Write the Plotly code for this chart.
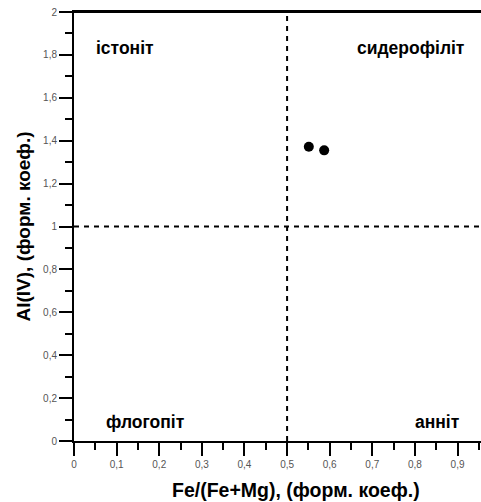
import plotly.graph_objects as go

# Data
fe_ratio = [0.551, 0.587]
al_iv = [1.372, 1.355]

field_names = ["істоніт", "сидерофіліт", "флогопіт", "анніт"]
field_x = [0.12, 0.79, 0.167, 0.852]
field_y = [1.83, 1.83, 0.09, 0.09]

fe_split = 0.5
al_split = 1.0

x_range = [0, 0.955]
y_range = [0, 2]

x_title = "Fe/(Fe+Mg), (форм. коеф.)"
y_title = "Al(IV), (форм. коеф.)"

FONT = "Liberation Sans, Arial"

fig = go.Figure()
fig.add_trace(go.Scatter(
    x=fe_ratio, y=al_iv, mode="markers",
    marker=dict(color="black", size=10),
    showlegend=False, cliponaxis=False, hoverinfo="skip",
))

for name, xx, yy in zip(field_names, field_x, field_y):
    fig.add_annotation(x=xx, y=yy, text="<b>" + name + "</b>", showarrow=False,
                       font=dict(family=FONT, size=17.5, color="black"))

fig.add_shape(type="line", x0=fe_split, x1=fe_split, y0=y_range[0], y1=y_range[1],
              line=dict(color="black", width=2, dash="5px,5px"))
fig.add_shape(type="line", x0=x_range[0], x1=x_range[1], y0=al_split, y1=al_split,
              line=dict(color="black", width=2, dash="5px,5px"))
# top frame line
fig.add_shape(type="line", xref="paper", yref="paper", x0=0, x1=1, y0=1, y1=1,
              line=dict(color="black", width=2), layer="above")

# axis titles
fig.add_annotation(xref="paper", yref="paper", x=(296 - 74) / (481 - 74), y=-0.115,
                   yanchor="middle", xanchor="center", showarrow=False,
                   text="<b>" + x_title + "</b>", font=dict(family=FONT, size=19.5, color="black"))
fig.add_annotation(xref="paper", yref="paper", x=-(74 - 23) / (481 - 74), y=0.5,
                   xanchor="center", yanchor="middle", textangle=-90, showarrow=False,
                   text="<b>" + y_title + "</b>", font=dict(family=FONT, size=19, color="black"))

tickfont = dict(family=FONT, size=10, color="#555555")

fig.update_xaxes(
    range=x_range, dtick=0.1, tick0=0, ticks="outside", ticklen=13, tickwidth=2,
    tickcolor="black", showline=True, linecolor="black", linewidth=2, mirror=True,
    showgrid=False, zeroline=False, tickfont=tickfont, ticklabeloverflow="allow",
    automargin=False,
    minor=dict(dtick=0.05, ticks="outside", ticklen=7, tickwidth=2, tickcolor="black", showgrid=False),
)
fig.update_yaxes(
    range=y_range, dtick=0.2, tick0=0, ticks="outside", ticklen=13, tickwidth=2,
    tickcolor="black", showline=True, linecolor="black", linewidth=2, mirror=False,
    showgrid=False, zeroline=False, tickfont=tickfont, ticklabeloverflow="allow",
    automargin=False,
    minor=dict(dtick=0.1, ticks="outside", ticklen=7, tickwidth=2, tickcolor="black", showgrid=False),
)

fig.update_layout(
    width=481, height=502,
    margin=dict(l=74, r=0, t=12, b=61),
    plot_bgcolor="white", paper_bgcolor="white",
    separators=", ",
)

fig.write_html("out.html", config={"displayModeBar": False},
               post_script="document.body.style.margin='0';document.body.style.overflow='hidden';")
